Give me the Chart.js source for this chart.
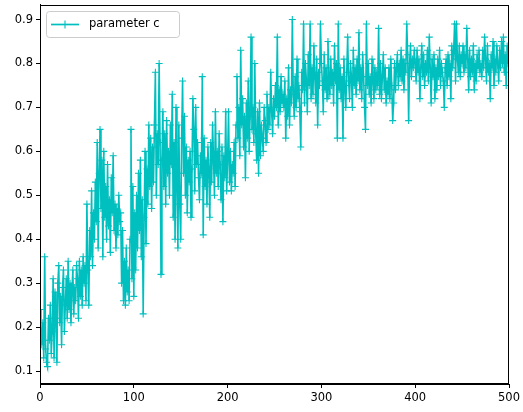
<!DOCTYPE html>
<html><head><meta charset="utf-8">
<script src="https://cdn.jsdelivr.net/npm/chart.js@4.4.1/dist/chart.umd.min.js"></script>
<style>html,body{margin:0;padding:0;background:#fff;}#wrap{width:523px;height:412px;position:relative;}</style>
</head><body><div id="wrap"><canvas id="c" width="523" height="412"></canvas></div>
<script>
const seriesName = "parameter c";
const xTicks = [0, 100, 200, 300, 400, 500];
const yTicks = [0.1, 0.2, 0.3, 0.4, 0.5, 0.6, 0.7, 0.8, 0.9];
const values = [
0.24,0.19,0.16,0.21,0.13,0.36,0.15,0.12,0.11,0.22,
0.17,0.25,0.14,0.19,0.31,0.13,0.28,0.22,0.12,0.30,
0.34,0.21,0.27,0.16,0.29,0.33,0.19,0.25,0.31,0.22,
0.35,0.24,0.30,0.21,0.28,0.33,0.23,0.29,0.26,0.34,
0.31,0.22,0.35,0.27,0.33,0.25,0.36,0.30,0.34,0.26,
0.48,0.33,0.25,0.42,0.36,0.51,0.34,0.46,0.40,0.53,
0.44,0.62,0.38,0.55,0.65,0.47,0.58,0.36,0.60,0.45,
0.52,0.40,0.57,0.43,0.49,0.37,0.54,0.46,0.59,0.42,
0.48,0.38,0.47,0.41,0.50,0.44,0.46,0.30,0.42,0.26,
0.35,0.25,0.38,0.28,0.33,0.26,0.40,0.65,0.31,0.52,
0.27,0.46,0.33,0.50,0.38,0.55,0.42,0.58,0.36,0.49,
0.23,0.45,0.60,0.39,0.56,0.48,0.66,0.52,0.63,0.47,
0.61,0.53,0.66,0.78,0.50,0.64,0.57,0.80,0.62,0.32,
0.58,0.69,0.52,0.64,0.48,0.67,0.55,0.60,0.50,0.66,
0.57,0.73,0.45,0.62,0.40,0.70,0.52,0.38,0.66,0.48,
0.40,0.63,0.76,0.55,0.68,0.50,0.61,0.46,0.58,0.53,
0.60,0.45,0.56,0.72,0.65,0.51,0.70,0.57,0.62,0.54,
0.49,0.59,0.55,0.77,0.41,0.63,0.52,0.58,0.48,0.61,
0.56,0.45,0.62,0.53,0.66,0.58,0.50,0.69,0.55,0.60,
0.52,0.64,0.57,0.49,0.61,0.44,0.59,0.54,0.69,0.51,
0.58,0.69,0.53,0.60,0.51,0.57,0.55,0.62,0.52,0.66,
0.77,0.63,0.70,0.59,0.83,0.66,0.72,0.61,0.68,0.54,
0.71,0.63,0.76,0.60,0.68,0.86,0.65,0.70,0.62,0.80,
0.64,0.58,0.69,0.55,0.71,0.59,0.66,0.63,0.60,0.70,
0.67,0.62,0.73,0.65,0.70,0.66,0.78,0.69,0.64,0.72,
0.68,0.75,0.70,0.86,0.66,0.74,0.69,0.77,0.71,0.73,
0.70,0.76,0.63,0.72,0.68,0.79,0.66,0.74,0.71,0.90,
0.73,0.68,0.77,0.70,0.81,0.72,0.75,0.69,0.61,0.78,
0.74,0.89,0.71,0.80,0.76,0.69,0.82,0.75,0.89,0.72,
0.79,0.73,0.84,0.77,0.71,0.81,0.66,0.78,0.75,0.89,
0.80,0.76,0.69,0.82,0.74,0.79,0.72,0.85,0.77,0.73,
0.81,0.75,0.78,0.71,0.84,0.76,0.80,0.63,0.89,0.74,
0.79,0.72,0.77,0.63,0.81,0.75,0.70,0.78,0.86,0.76,
0.72,0.80,0.77,0.70,0.83,0.75,0.79,0.73,0.81,0.76,
0.87,0.74,0.79,0.72,0.82,0.77,0.70,0.65,0.89,0.75,
0.80,0.73,0.77,0.71,0.81,0.76,0.72,0.79,0.74,0.78,
0.75,0.88,0.73,0.80,0.72,0.77,0.82,0.74,0.79,0.71,
0.76,0.73,0.79,0.72,0.81,0.75,0.67,0.71,0.80,0.74,
0.79,0.82,0.75,0.80,0.77,0.83,0.76,0.81,0.74,0.80,
0.78,0.89,0.82,0.67,0.80,0.84,0.77,0.81,0.79,0.83,
0.80,0.76,0.83,0.78,0.81,0.72,0.79,0.84,0.77,0.82,
0.75,0.80,0.78,0.83,0.76,0.86,0.79,0.71,0.81,0.77,
0.82,0.72,0.79,0.74,0.81,0.77,0.83,0.75,0.80,0.78,
0.76,0.70,0.79,0.81,0.75,0.82,0.77,0.80,0.72,0.84,
0.79,0.83,0.89,0.76,0.89,0.81,0.78,0.84,0.77,0.82,
0.80,0.84,0.78,0.82,0.79,0.88,0.81,0.74,0.83,0.77,
0.81,0.78,0.84,0.74,0.80,0.76,0.82,0.79,0.83,0.78,
0.80,0.77,0.83,0.79,0.86,0.81,0.76,0.84,0.78,0.80,
0.72,0.82,0.79,0.85,0.75,0.81,0.78,0.84,0.80,0.76,
0.83,0.79,0.85,0.80,0.86,0.78,0.82,0.75,0.84,0.80
];
const COLOR = '#00bfbf';
const FONT = 'DejaVu Sans';
const points = values.map((v, i) => ({x: i, y: v}));

const framePlugin = {
  id: 'frame',
  afterDraw(chart) {
    const {ctx, chartArea: a} = chart;
    ctx.save();
    ctx.strokeStyle = '#000';
    ctx.lineWidth = 1;
    ctx.strokeRect(Math.round(a.left) + 0.5, Math.round(a.top) + 0.5, Math.round(a.right - a.left) - 1, Math.round(a.bottom - a.top) - 1);
    // legend
    const bx = 46.5, by = 11.5, bw = 133, bh = 26, r = 3;
    ctx.beginPath();
    ctx.moveTo(bx + r, by);
    ctx.arcTo(bx + bw, by, bx + bw, by + bh, r);
    ctx.arcTo(bx + bw, by + bh, bx, by + bh, r);
    ctx.arcTo(bx, by + bh, bx, by, r);
    ctx.arcTo(bx, by, bx + bw, by, r);
    ctx.closePath();
    ctx.fillStyle = 'rgba(255,255,255,0.8)';
    ctx.fill();
    ctx.strokeStyle = '#cccccc';
    ctx.stroke();
    const ly = 24.5;
    ctx.strokeStyle = COLOR;
    ctx.lineWidth = 1.7;
    ctx.beginPath(); ctx.moveTo(51, ly); ctx.lineTo(79, ly); ctx.stroke();
    ctx.lineWidth = 1.1;
    ctx.beginPath(); ctx.moveTo(65, ly - 4); ctx.lineTo(65, ly + 4); ctx.stroke();
    ctx.fillStyle = '#000';
    ctx.font = '11.5px "' + FONT + '"';
    ctx.textBaseline = 'middle';
    ctx.textAlign = 'left';
    ctx.fillText(seriesName, 89, ly);
    ctx.restore();
  }
};

const axisCommon = {
  grid: {drawOnChartArea: false, drawTicks: true, tickLength: 4, tickColor: '#000', tickWidth: 1},
  border: {display: true, color: '#000', width: 1},
  ticks: {color: '#000', font: {family: FONT, size: 11.5}, padding: 3}
};

new Chart(document.getElementById('c'), {
  type: 'line',
  data: {
    datasets: [{
      label: seriesName,
      data: points,
      borderColor: COLOR,
      backgroundColor: COLOR,
      borderWidth: 1.6,
      pointStyle: 'cross',
      pointRadius: 3.5,
      pointBorderWidth: 1.1,
      pointBorderColor: COLOR,
      pointHoverRadius: 3.5,
      tension: 0,
      fill: false
    }]
  },
  options: {
    responsive: false,
    animation: false,
    devicePixelRatio: 1,
    layout: {padding: {top: 4, right: 14, left: 0, bottom: 0}},
    plugins: {legend: {display: false}, tooltip: {enabled: false}},
    scales: {
      x: {
        type: 'linear', min: 0, max: 500,
        ...axisCommon,
        ticks: {...axisCommon.ticks, maxRotation: 0, callback: v => String(v)},
        afterBuildTicks: s => { s.ticks = xTicks.map(v => ({value: v})); },
        afterFit: s => { s.height = 28; s.paddingLeft = 0; s.paddingRight = 0; }
      },
      y: {
        type: 'linear', min: 0.0705, max: 0.934,
        ...axisCommon,
        ticks: {...axisCommon.ticks, callback: v => Number(v).toFixed(1)},
        afterBuildTicks: s => { s.ticks = yTicks.map(v => ({value: v})); },
        afterFit: s => { s.width = 40; s.paddingTop = 0; s.paddingBottom = 0; }
      }
    }
  },
  plugins: [framePlugin]
});
</script>
</body></html>
